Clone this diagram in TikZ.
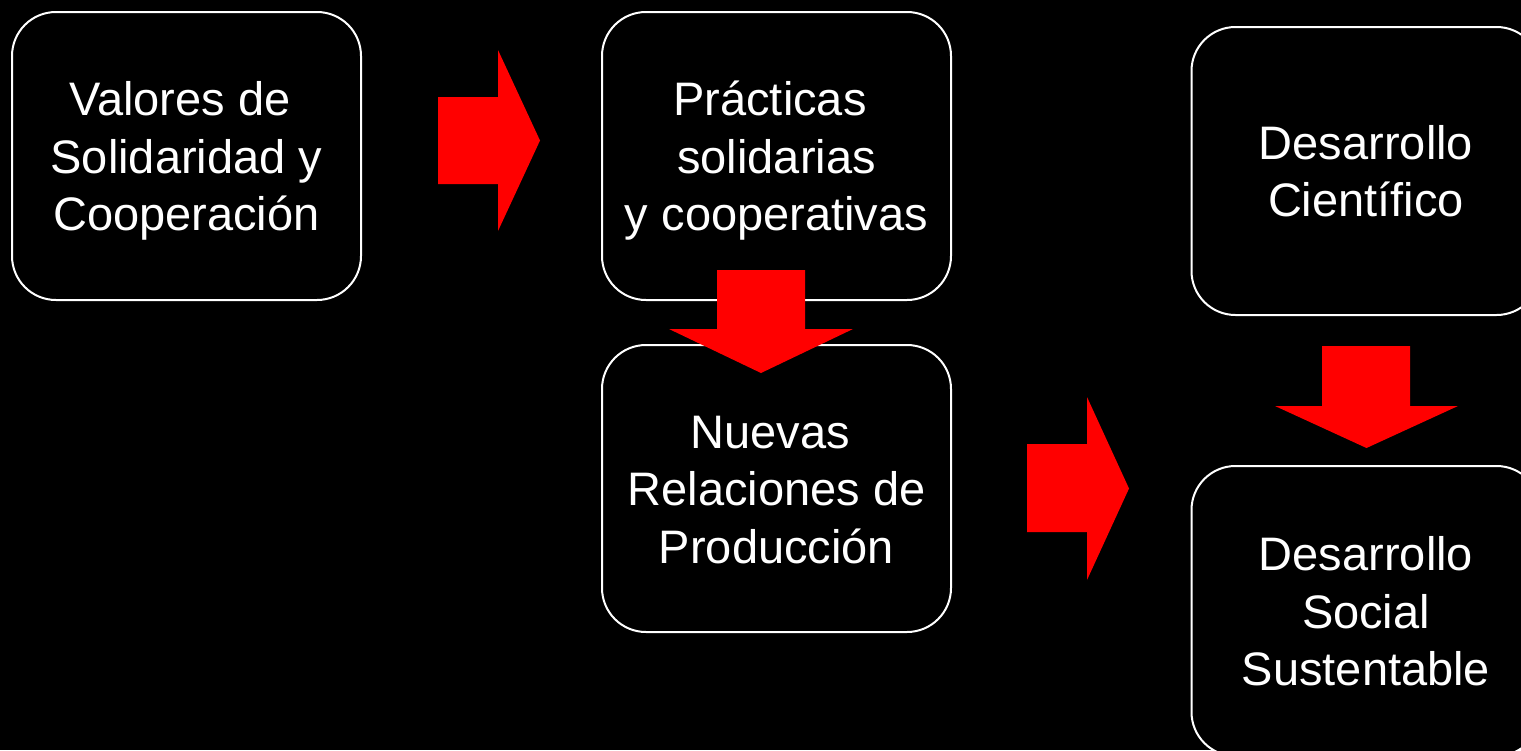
\documentclass[tikz,border=0pt]{standalone}
\usepackage{fontspec}
\setmainfont{Liberation Sans}
\begin{document}
\begin{tikzpicture}[x=1pt,y=-1pt,
  box/.style={draw=white, line width=2pt, rounded corners=44pt, fill=black,
    minimum width=349pt, minimum height=288pt, inner sep=0pt,
    text=white, font=\fontsize{47}{57.5}\selectfont, align=center,
    text depth=0pt},
  three/.style={text height=149pt},
  two/.style={text height=91.5pt},
  blockarrow/.style={fill=red}]
\fill[black] (0,0) rectangle (1521,750);
\clip (0,0) rectangle (1521,750);
\useasboundingbox (0,0) rectangle (1521,750);

\node[box,three] (b1) at (186.5,156) {Valores de\hspace*{13pt}\\Solidaridad y\\Cooperación};
\node[box,three] (b2) at (776.5,156) {Prácticas\hspace*{13pt}\\solidarias\hspace*{13pt}\\y cooperativas};
\node[box,three,minimum height=287pt] (b3) at (776.5,488.5) {Nuevas\hspace*{13pt}\\Relaciones de\\Producción};
\node[box,two] (b4) at (1366,171) {Desarrollo\\Científico};
\node[box,three,minimum height=290pt] (b5) at (1366,611) {Desarrollo\\Social\hspace*{13pt}\\Sustentable};

% block arrows
\fill[blockarrow] (438,97) -- (498,97) -- (498,50) -- (540,140.5) -- (498,231) -- (498,184) -- (438,184) -- cycle;
\fill[blockarrow] (717,270) -- (805,270) -- (805,329) -- (853,329) -- (761,373) -- (669,329) -- (717,329) -- cycle;
\fill[blockarrow] (1027,444) -- (1087,444) -- (1087,397) -- (1129,488.5) -- (1087,580) -- (1087,532) -- (1027,532) -- cycle;
\fill[blockarrow] (1322,346) -- (1410,346) -- (1410,406) -- (1458,406) -- (1366.5,448) -- (1275,406) -- (1322,406) -- cycle;
\end{tikzpicture}
\end{document}
